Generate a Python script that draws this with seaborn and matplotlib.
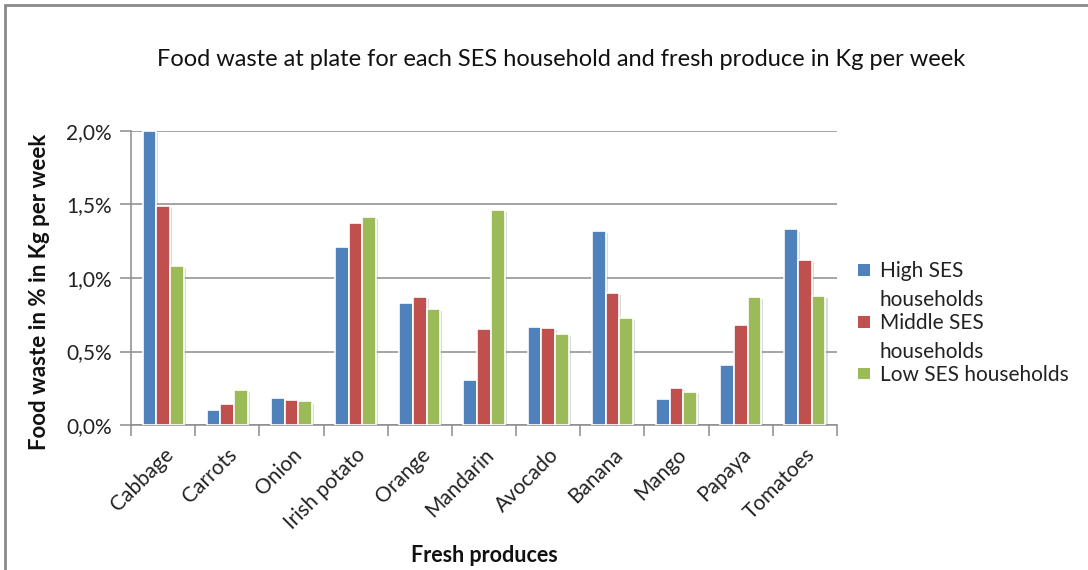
import matplotlib
matplotlib.use("Agg")
import matplotlib.pyplot as plt
import matplotlib.patheffects as pe
from matplotlib.ticker import FuncFormatter, FixedLocator
from matplotlib.legend_handler import HandlerBase
from matplotlib.patches import Rectangle, Patch
import pandas as pd
import seaborn as sns

# Food waste at plate (% in kg per week) by produce and SES group
produces = ["Cabbage", "Carrots", "Onion", "Irish potato", "Orange", "Mandarin",
            "Avocado", "Banana", "Mango", "Papaya", "Tomatoes"]
high_ses = [2.00, 0.105, 0.185, 1.21, 0.83, 0.305, 0.67, 1.32, 0.176, 0.41, 1.33]
middle_ses = [1.49, 0.145, 0.17, 1.375, 0.87, 0.656, 0.662, 0.90, 0.255, 0.68, 1.12]
low_ses = [1.08, 0.24, 0.16, 1.415, 0.79, 1.46, 0.617, 0.726, 0.223, 0.87, 0.88]
series_names = ["High SES households", "Middle SES households", "Low SES households"]
legend_labels = ["High SES\nhouseholds", "Middle SES\nhouseholds", "Low SES households"]
colors = ["#4F81BD", "#C0504D", "#9BBB59"]

df = pd.DataFrame({
    "produce": produces * 3,
    "value": high_ses + middle_ses + low_ses,
    "group": [s for s in series_names for _ in produces],
})


class FirstLineSquare(HandlerBase):
    """Square legend key aligned with the first line of a wrapped label."""

    def __init__(self, lift=0.0):
        super().__init__()
        self.lift = lift

    def create_artists(self, legend, orig_handle, xdescent, ydescent, width, height,
                       fontsize, trans):
        s = 0.55 * fontsize
        x0 = -xdescent + (width - s) / 2
        y0 = -ydescent + (height - s) / 2 + self.lift * fontsize
        sq = Rectangle((x0, y0), s, s, facecolor=orig_handle.get_facecolor(),
                       edgecolor="none", transform=trans)
        return [sq]


sns.set_theme(style="white")
plt.rcParams["font.family"] = ["Lato", "DejaVu Sans"]

fig = plt.figure(figsize=(10.88, 5.70), dpi=100)
ax = fig.add_axes([131 / 1088, 1 - 425 / 570, (837 - 131) / 1088, (425 - 131) / 570])

sns.barplot(data=df, x="produce", y="value", hue="group", order=produces,
            hue_order=series_names, palette=colors, width=0.64, ax=ax,
            edgecolor="white", linewidth=1.2, saturation=1, legend=False)

shadow = [pe.SimplePatchShadow(offset=(1.5, -1.5), shadow_rgbFace="#9a9a9a", alpha=0.35),
          pe.Normal()]
for bar in ax.patches:
    bar.set_path_effects(shadow)
    bar.set_zorder(3)

ax.set_ylim(0, 2.0)
ax.set_xlim(-0.5, len(produces) - 0.5)
ax.yaxis.set_major_locator(FixedLocator([0, 0.5, 1.0, 1.5, 2.0]))
ax.yaxis.set_major_formatter(FuncFormatter(lambda v, _: f"{v:.1f}%".replace(".", ",")))
ax.grid(axis="y", color="#8c8c8c", linewidth=1.1, zorder=0)
ax.set_axisbelow(True)

for side in ["top", "right"]:
    ax.spines[side].set_visible(False)
for side in ["left", "bottom"]:
    ax.spines[side].set_color("#8c8c8c")
    ax.spines[side].set_linewidth(1.1)

ax.tick_params(axis="y", which="major", length=8, width=1.1, color="#8c8c8c",
               labelsize=15, labelcolor="#222222", pad=6, left=True)
ax.set_xticks(range(len(produces)))
ax.set_xticklabels(produces, rotation=45, ha="right", rotation_mode="anchor",
                   fontsize=15, color="#222222")
ax.tick_params(axis="x", which="major", length=0, pad=14, bottom=True)
ax.set_xticks([i - 0.5 for i in range(len(produces) + 1)], minor=True)
ax.tick_params(axis="x", which="minor", length=8, width=1.1, color="#8c8c8c", bottom=True)

ax.set_xlabel("")
ax.set_ylabel("")
fig.text(40 / 1088, 1 - 292 / 570, "Food waste in % in Kg per week", rotation=90,
         ha="center", va="center", fontsize=16, fontweight="bold", color="#111111")
fig.text(484 / 1088, 1 - 555 / 570, "Fresh produces", ha="center", va="center",
         fontsize=15.5, fontweight="bold", color="#111111")
fig.text(561 / 1088, 1 - 60 / 570,
         "Food waste at plate for each SES household and fresh produce in Kg per week",
         ha="center", va="center", fontsize=17, color="#111111")

handles = [Patch(facecolor=c) for c in colors]
handler_map = {h: FirstLineSquare(lift=0.78 if "\n" in lab else 0.0)
               for h, lab in zip(handles, legend_labels)}
leg = fig.legend(handles, legend_labels, loc="center left",
                 bbox_to_anchor=(837 / 1088, 1 - 323 / 570), frameon=False,
                 fontsize=15, handlelength=0.8, handletextpad=0.35, labelspacing=0.15,
                 labelcolor="#222222", handler_map=handler_map)
for t in leg.get_texts():
    t.set_linespacing(1.55)

# outer chart border (left and top edges)
fig.add_artist(Rectangle((5 / 1088, -0.05), 2.0, 1.0 - 5 / 570 + 0.05,
                         transform=fig.transFigure, fill=False,
                         edgecolor="#8a8a8a", linewidth=2.0))

fig.savefig("out.png", dpi=100)
